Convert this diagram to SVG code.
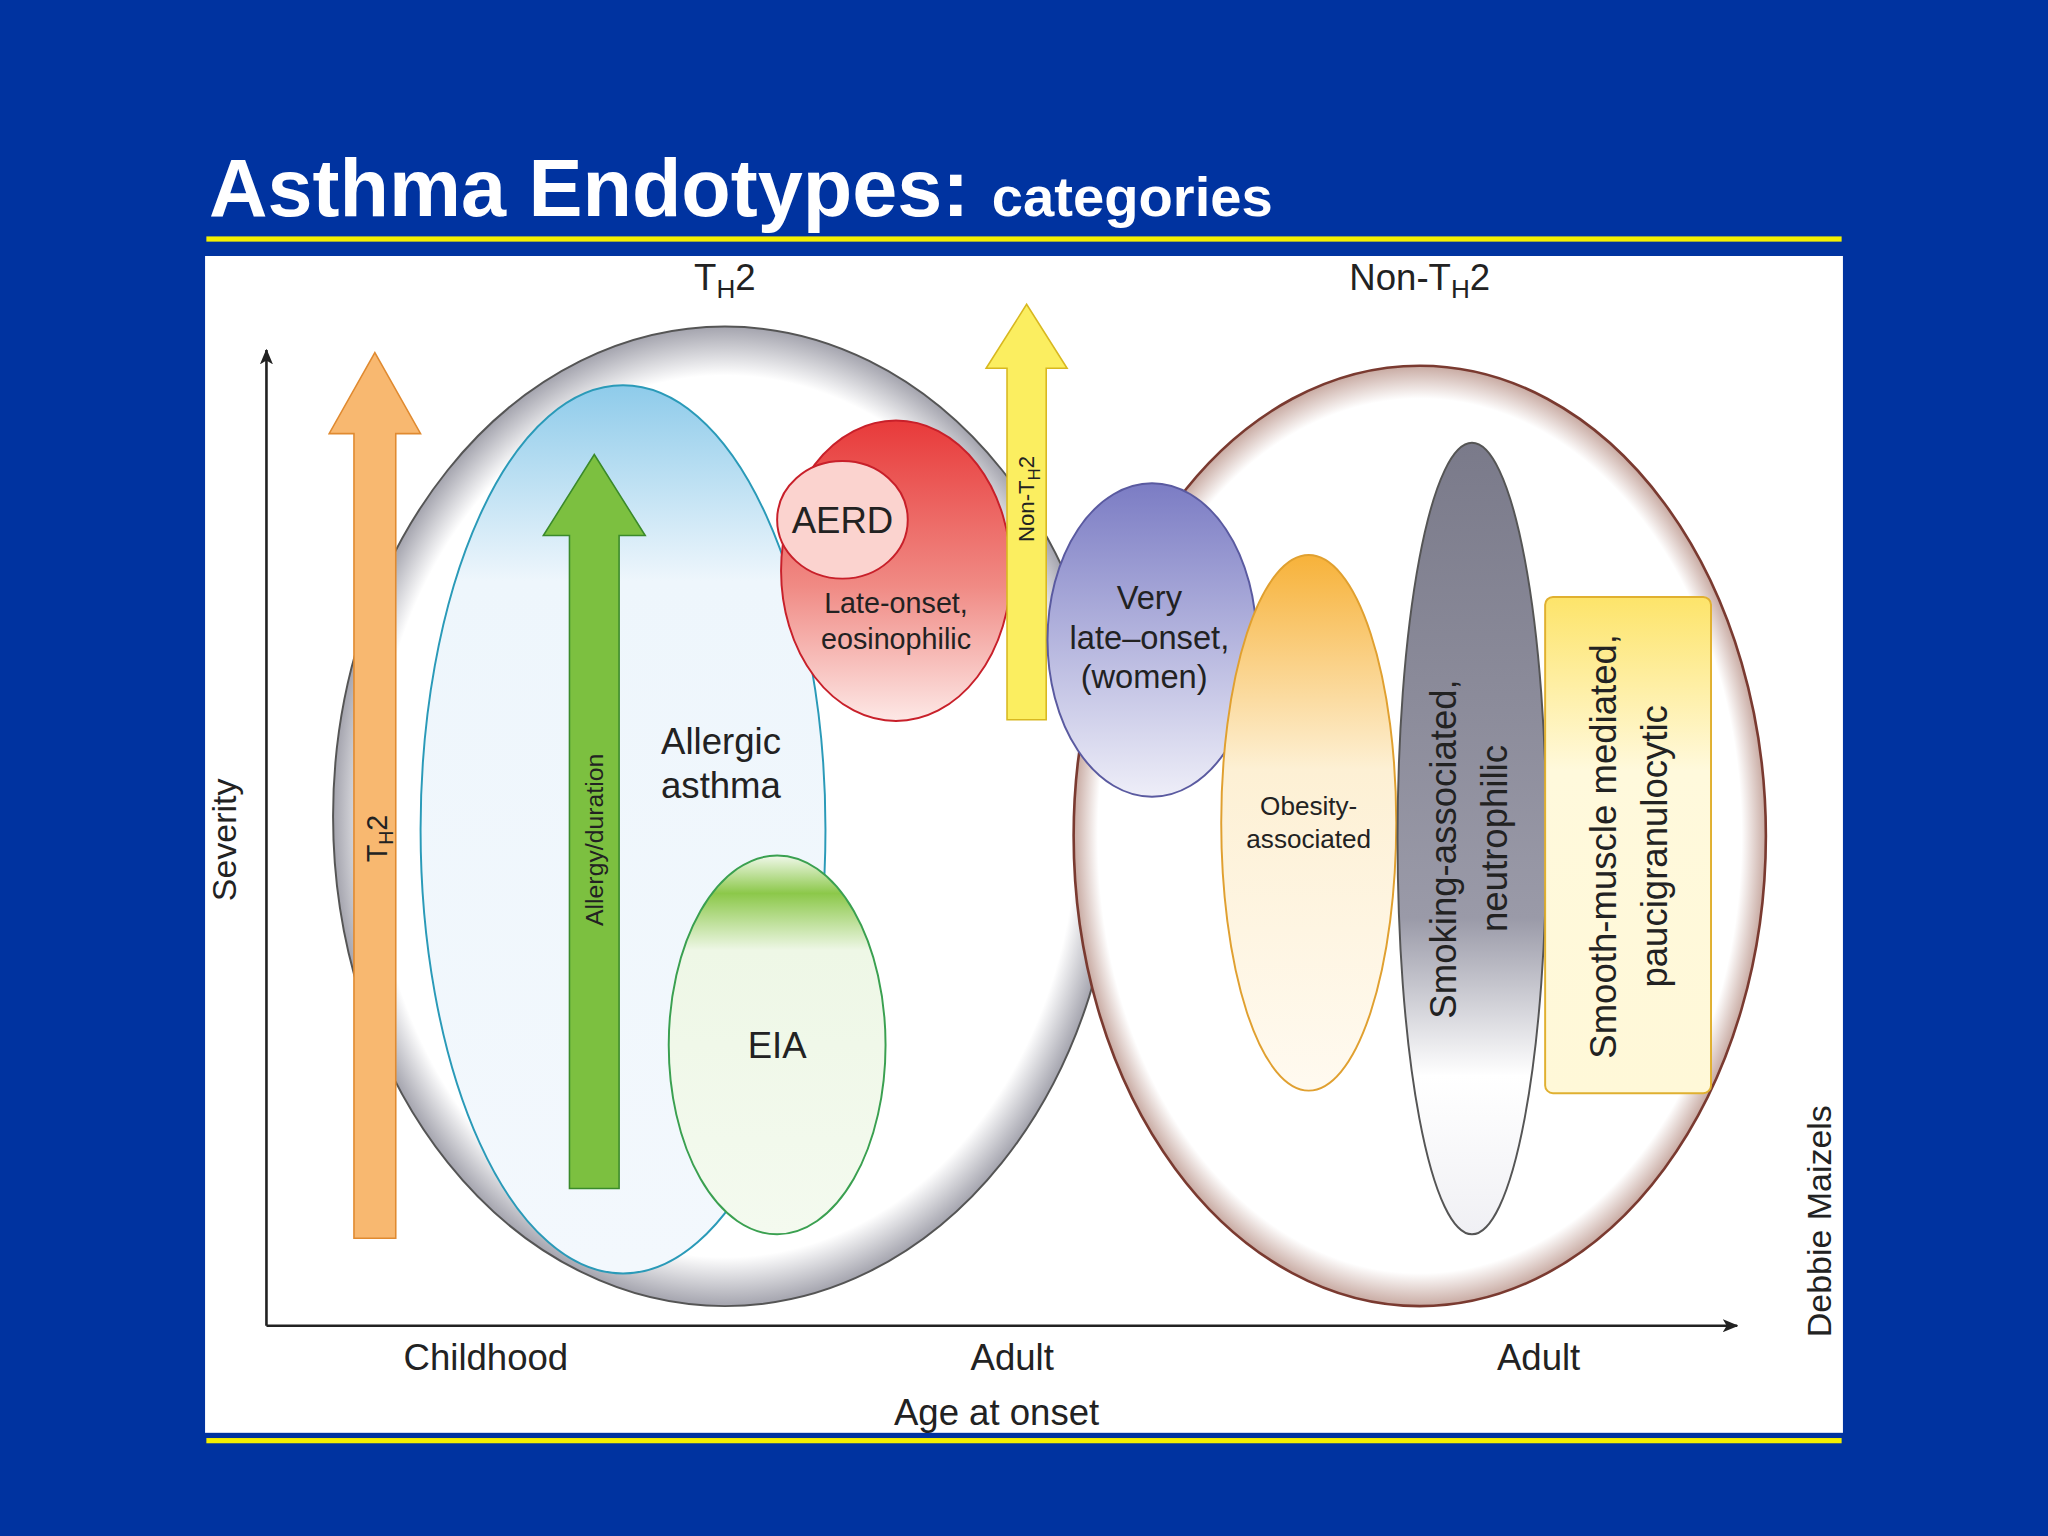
<svg xmlns="http://www.w3.org/2000/svg" width="2048" height="1536" viewBox="0 0 2048 1536">
<style>
text{font-family:"Liberation Sans",Arial,sans-serif;fill:#222}
.t{font-size:28px}
.s{font-size:22px}
</style>
<defs>
<radialGradient id="gGrey" cx="0.5" cy="0.5" r="0.5"><stop offset="0.9" stop-color="#fff"/><stop offset="1" stop-color="#a4a4ae"/></radialGradient>
<radialGradient id="gBrown" cx="0.5" cy="0.5" r="0.5"><stop offset="0.93" stop-color="#fff"/><stop offset="1" stop-color="#c8aaa2"/></radialGradient>
<linearGradient id="gBlue" x1="0" y1="0" x2="0" y2="1"><stop offset="0" stop-color="#8ecbea"/><stop offset="0.22" stop-color="#eef6fc"/><stop offset="1" stop-color="#f3f8fd"/></linearGradient>
<linearGradient id="gGreen" x1="0" y1="0" x2="0" y2="1"><stop offset="0" stop-color="#f0f8ea"/><stop offset="0.1" stop-color="#8cc84a"/><stop offset="0.25" stop-color="#eef7e6"/><stop offset="1" stop-color="#f4faef"/></linearGradient>
<linearGradient id="gRed" x1="0" y1="0" x2="0" y2="1"><stop offset="0" stop-color="#e83a3a"/><stop offset="0.55" stop-color="#f08a84"/><stop offset="1" stop-color="#fde8e6"/></linearGradient>
<linearGradient id="gPurple" x1="0" y1="0" x2="0" y2="1"><stop offset="0" stop-color="#7b7cc4"/><stop offset="1" stop-color="#eeeef8"/></linearGradient>
<linearGradient id="gOrange" x1="0" y1="0" x2="0" y2="1"><stop offset="0" stop-color="#f7b23a"/><stop offset="0.4" stop-color="#fdf0d4"/><stop offset="1" stop-color="#fffaf0"/></linearGradient>
<linearGradient id="gSmoke" x1="0" y1="0" x2="0" y2="1"><stop offset="0" stop-color="#7a7a8a"/><stop offset="0.6" stop-color="#9a9aa8"/><stop offset="0.8" stop-color="#ffffff"/><stop offset="1" stop-color="#f0f0f4"/></linearGradient>
<linearGradient id="gYel" x1="0" y1="0" x2="0" y2="1"><stop offset="0" stop-color="#fde46a"/><stop offset="0.35" stop-color="#fff9dc"/><stop offset="1" stop-color="#fff8d8"/></linearGradient>
<marker id="ah" markerWidth="12" markerHeight="10" refX="11" refY="5" orient="auto" markerUnits="userSpaceOnUse"><path d="M0,0 L12,5 L0,10 L3,5 Z" fill="#222"/></marker>
</defs>
<rect width="2048" height="1536" fill="#0033a0"/>
<g transform="scale(1.30612)">
<text x="160" y="165" style="font-size:62px;font-weight:bold;fill:#fff">Asthma Endotypes: <tspan style="font-size:43px">categories</tspan></text>
<rect x="158" y="181" width="1252" height="4" fill="#f4f000"/>
<rect x="157" y="196" width="1254" height="901" fill="#fff"/>
<rect x="158" y="1101" width="1252" height="4" fill="#f4f000"/>

<g id="th2-region"><ellipse cx="555" cy="625" rx="300" ry="375" fill="url(#gGrey)" stroke="#555" stroke-width="1.5"/></g>
<g id="nonth2-region"><ellipse cx="1087" cy="640" rx="265" ry="360" fill="url(#gBrown)" stroke="#7a3a30" stroke-width="2"/></g>
<g id="allergic"><ellipse cx="477" cy="635" rx="155" ry="340" fill="url(#gBlue)" stroke="#2a9ab8" stroke-width="1.5"/>
<text class="t" x="552" y="577" text-anchor="middle">Allergic</text><text class="t" x="552" y="611" text-anchor="middle">asthma</text></g>
<g id="eia"><ellipse cx="595" cy="800" rx="83" ry="145" fill="url(#gGreen)" stroke="#3aa050" stroke-width="1.5"/>
<text class="t" x="595" y="810" text-anchor="middle">EIA</text></g>
<g id="th2-arrow"><path d="M271,948 V332 H252 L287,270 L322,332 H303 V948 Z" fill="#f8b870" stroke="#e08a30" stroke-width="1.2"/>
<text class="s" transform="translate(296,642) rotate(-90)" text-anchor="middle">T<tspan style="font-size:15px" dy="5">H</tspan><tspan dy="-5">2</tspan></text></g>
<g id="allergy-arrow"><path d="M436,910 V410 H416 L455,348 L494,410 H474 V910 Z" fill="#7cc040" stroke="#3a8a2a" stroke-width="1.2"/>
<text transform="translate(462,643) rotate(-90)" text-anchor="middle" style="font-size:19px">Allergy/duration</text></g>
<g id="late-onset"><ellipse cx="686" cy="437" rx="88" ry="115" fill="url(#gRed)" stroke="#c8202a" stroke-width="1.5"/>
<text class="s" x="686" y="469" text-anchor="middle">Late-onset,</text><text class="s" x="686" y="497" text-anchor="middle">eosinophilic</text></g>
<g id="aerd"><ellipse cx="645" cy="398" rx="50" ry="45" fill="#fbd3cf" stroke="#c8202a" stroke-width="1.5"/>
<text class="t" x="645" y="408" text-anchor="middle">AERD</text></g>
<g id="nonth2-arrow"><path d="M771,551 V282 H755 L786,233 L817,282 H801 V551 Z" fill="#fbee60" stroke="#d8b820" stroke-width="1.2"/>
<text transform="translate(792,382) rotate(-90)" text-anchor="middle" style="font-size:17px">Non-T<tspan style="font-size:13px" dy="4">H</tspan><tspan dy="-4">2</tspan></text></g>
<g id="very-late"><ellipse cx="882" cy="490" rx="80" ry="120" fill="url(#gPurple)" stroke="#5a5aa0" stroke-width="1.5"/>
<text style="font-size:25px" x="880" y="466" text-anchor="middle">Very</text><text style="font-size:25px" x="880" y="497" text-anchor="middle">late–onset,</text><text style="font-size:25px" x="876" y="527" text-anchor="middle">(women)</text></g>
<g id="obesity"><ellipse cx="1002" cy="630" rx="67" ry="205" fill="url(#gOrange)" stroke="#e0a030" stroke-width="1.5"/>
<text style="font-size:20px" x="1002" y="624" text-anchor="middle">Obesity-</text><text style="font-size:20px" x="1002" y="649" text-anchor="middle">associated</text></g>
<g id="smoking"><ellipse cx="1127" cy="642" rx="57" ry="303" fill="url(#gSmoke)" stroke="#555" stroke-width="1.5"/>
<text class="t" transform="translate(1115,650) rotate(-90)" text-anchor="middle">Smoking-associated,</text>
<text class="t" transform="translate(1154,642) rotate(-90)" text-anchor="middle">neutrophilic</text></g>
<g id="smooth"><rect x="1183" y="457" width="127" height="380" rx="6" fill="url(#gYel)" stroke="#e0b030" stroke-width="1.5"/>
<text class="t" transform="translate(1237,648) rotate(-90)" text-anchor="middle">Smooth-muscle mediated,</text>
<text class="t" transform="translate(1276,648) rotate(-90)" text-anchor="middle">paucigranulocytic</text></g>
<g id="connectors" stroke="#222" stroke-width="2" fill="none">
<line x1="204" y1="1015" x2="204" y2="268" marker-end="url(#ah)"/>
<line x1="204" y1="1015" x2="1330" y2="1015" marker-end="url(#ah)"/>
</g>
<g id="labels">
<text class="t" x="555" y="222" text-anchor="middle">T<tspan style="font-size:20px" dy="6">H</tspan><tspan dy="-6">2</tspan></text>
<text class="t" x="1087" y="222" text-anchor="middle">Non-T<tspan style="font-size:20px" dy="6">H</tspan><tspan dy="-6">2</tspan></text>
<text style="font-size:26px" transform="translate(181,643) rotate(-90)" text-anchor="middle">Severity</text>
<text class="t" x="372" y="1049" text-anchor="middle">Childhood</text>
<text class="t" x="775" y="1049" text-anchor="middle">Adult</text>
<text class="t" x="1178" y="1049" text-anchor="middle">Adult</text>
<text class="t" x="763" y="1091" text-anchor="middle">Age at onset</text>
<text style="font-size:26px" transform="translate(1402,935) rotate(-90)" text-anchor="middle">Debbie Maizels</text>
</g>
</g>
</svg>
